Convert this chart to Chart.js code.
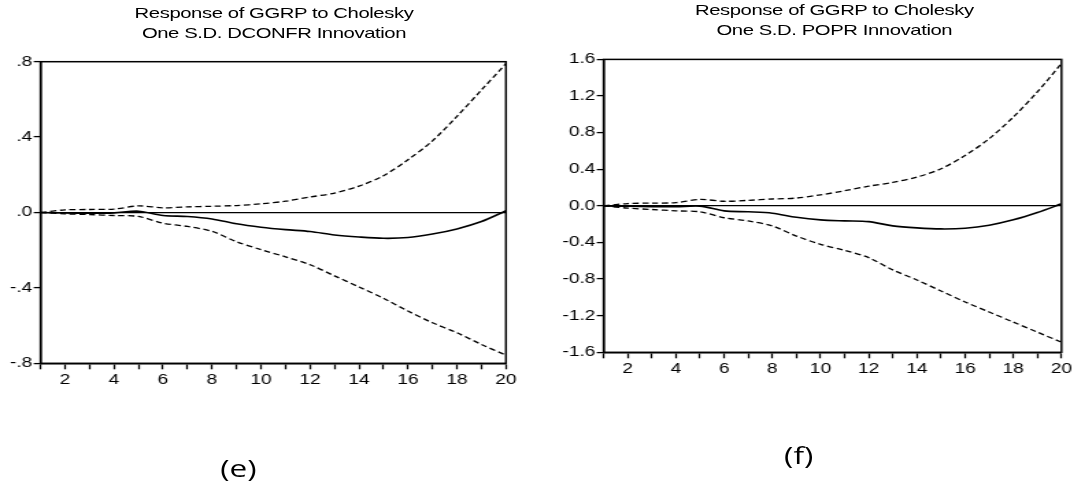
<!DOCTYPE html>
<html>
<head>
<meta charset="utf-8">
<script src="https://cdn.jsdelivr.net/npm/chart.js@4.4.0/dist/chart.umd.min.js"></script>
<style>
  html, body { margin: 0; padding: 0; background: #fff; }
  body { width: 1079px; height: 484px; overflow: hidden; }
  /* the source figure is stretched sideways, so the whole stage is too */
  #stage { position: absolute; left: 0; top: 0; width: 788px; height: 484px;
           transform-origin: 0 0; transform: scaleX(1.37); }
  .title { position: absolute; width: 340px; text-align: center;
           font: 14.8px "Liberation Sans", Arial, sans-serif; letter-spacing: -0.3px;
           line-height: 20px; color: #000; }
  .caption { position: absolute; width: 60px; text-align: center;
             font: 23px "Open Sans", sans-serif; line-height: 30px; color: #000; }
  canvas { position: absolute; }
</style>
</head>
<body>
<div id="stage">
  <div class="title" style="left:30px;top:3px">Response of GGRP to Cholesky<br>One S.D. DCONFR Innovation</div>
  <div class="title" style="left:439px;top:0px">Response of GGRP to Cholesky<br>One S.D. POPR Innovation</div>
  <canvas id="chart-e" width="395" height="340" style="left:0;top:50px"></canvas>
  <canvas id="chart-f" width="388" height="330" style="left:400px;top:50px"></canvas>
  <div class="caption" style="left:144px;top:453px">(e)</div>
  <div class="caption" style="left:553px;top:440px">(f)</div>
</div>

<script>
// ---- data ----
const periods = [1, 2, 3, 4, 5, 6, 7, 8, 9, 10, 11, 12, 13, 14, 15, 16, 17, 18, 19, 20];

// (e) response to DCONFR
const dconfrResponse = [0, -0.003, -0.004, -0.002, 0.007, -0.016, -0.021, -0.034, -0.06, -0.078,
                        -0.091, -0.101, -0.119, -0.13, -0.137, -0.133, -0.114, -0.087, -0.048, 0.009];
const dconfrUpper    = [0, 0.014, 0.016, 0.018, 0.035, 0.025, 0.03, 0.033, 0.037, 0.046,
                        0.06, 0.082, 0.103, 0.14, 0.195, 0.28, 0.38, 0.51, 0.65, 0.79];
const dconfrLower    = [0, -0.007, -0.011, -0.016, -0.021, -0.057, -0.074, -0.1, -0.155, -0.197,
                        -0.235, -0.277, -0.336, -0.395, -0.455, -0.523, -0.585, -0.638, -0.7, -0.757];

// (f) response to POPR
const poprResponse = [0, -0.005, -0.008, -0.01, -0.003, -0.055, -0.065, -0.08, -0.125, -0.153,
                      -0.164, -0.172, -0.219, -0.241, -0.252, -0.245, -0.212, -0.153, -0.073, 0.022];
const poprUpper    = [0, 0.025, 0.03, 0.035, 0.07, 0.05, 0.06, 0.075, 0.085, 0.12,
                      0.165, 0.215, 0.256, 0.314, 0.405, 0.55, 0.734, 0.97, 1.245, 1.556];
const poprLower    = [0, -0.025, -0.04, -0.055, -0.065, -0.13, -0.165, -0.22, -0.33, -0.42,
                      -0.486, -0.566, -0.7, -0.81, -0.93, -1.05, -1.16, -1.27, -1.38, -1.49];

// ---- helpers ----
const FONT = { family: '"Liberation Sans", Arial, sans-serif', size: 14 };

const toPoints = (arr) => periods.map((p, i) => ({ x: p, y: arr[i] }));

const frameBox = {
  id: 'frameBox',
  afterDraw(chart) {
    const { ctx, chartArea: a } = chart;
    ctx.save();
    ctx.strokeStyle = '#000';
    ctx.lineWidth = 1.5;
    ctx.strokeRect(a.left, a.top, a.right - a.left, a.bottom - a.top);
    ctx.restore();
  }
};

const makeChart = (id, mid, upper, lower, yRange, yFormat, box) => {
  const line = (data, dashed) => ({
    data: toPoints(data),
    borderColor: '#000',
    borderWidth: dashed ? 1.3 : 1.6,
    borderDash: dashed ? [4.5, 2.6] : [],
    pointRadius: 0,
    tension: 0.3,
    fill: false
  });

  return new Chart(document.getElementById(id), {
    type: 'line',
    data: { datasets: [line(upper, true), line(mid, false), line(lower, true)] },
    options: {
      responsive: false,
      animation: false,
      layout: { padding: { left: 0, top: box.top, right: box.right, bottom: 0 } },
      plugins: { legend: { display: false }, tooltip: { enabled: false } },
      scales: {
        x: {
          type: 'linear',
          min: 1,
          max: 20,
          afterFit: (s) => { s.height = box.xHeight; },
          border: { color: '#000', width: 1.5 },
          grid: { drawOnChartArea: false, drawTicks: true, tickLength: 6, tickColor: '#000', tickWidth: 1.3 },
          ticks: {
            stepSize: 1,
            autoSkip: false,
            maxRotation: 0,
            padding: 2,
            color: '#000',
            font: FONT,
            callback: (v) => (v % 2 === 0 ? String(v) : '')
          }
        },
        y: {
          min: yRange[0],
          max: yRange[1],
          afterFit: (s) => { s.width = box.yWidth; },
          border: { color: '#000', width: 1.5 },
          grid: {
            color: (c) => (Math.abs(c.tick.value) < 1e-9 ? '#000' : 'rgba(0,0,0,0)'),
            lineWidth: 1.2,
            tickColor: '#000',
            tickLength: 5,
            tickWidth: 1.3
          },
          ticks: {
            stepSize: 0.4,
            padding: 1,
            color: '#000',
            font: FONT,
            callback: yFormat
          }
        }
      }
    },
    plugins: [frameBox]
  });
};

// EViews-style labels: ".8", ".0", "-.4"
const shortFormat = (v) => {
  const s = (Math.abs(v) < 1e-9 ? 0 : v).toFixed(1);
  return s.replace(/^(-?)0\./, '$1.');
};
const plainFormat = (v) => (Math.abs(v) < 1e-9 ? 0 : v).toFixed(1);

makeChart('chart-e', dconfrResponse, dconfrUpper, dconfrLower, [-0.8, 0.8], shortFormat,
  { top: 11.7, right: 25.7, xHeight: 26.7, yWidth: 29.6 });

makeChart('chart-f', poprResponse, poprUpper, poprLower, [-1.6, 1.6], plainFormat,
  { top: 9, right: 13.2, xHeight: 27.7, yWidth: 40.6 });
</script>
</body>
</html>
